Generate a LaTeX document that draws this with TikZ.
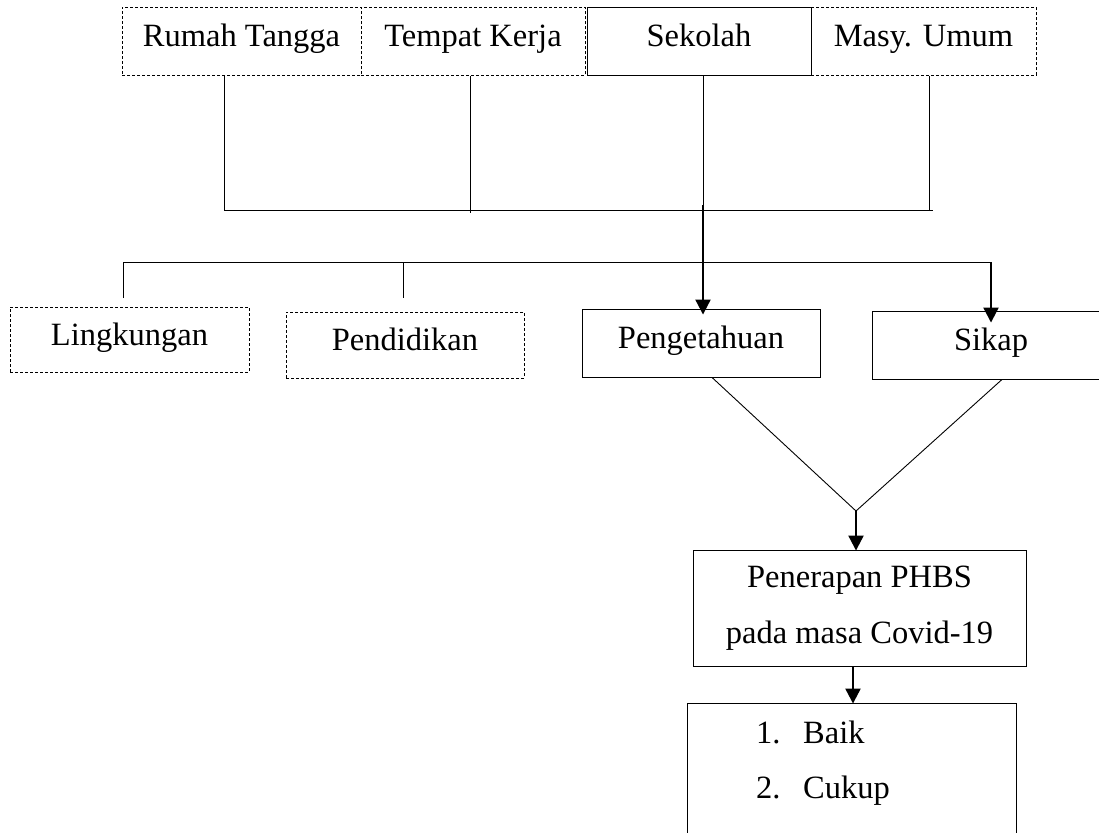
\documentclass[tikz,border=0pt]{standalone}
\usepackage{fontspec}
\setmainfont{Liberation Serif}
\usetikzlibrary{arrows.meta}
\begin{document}
\begin{tikzpicture}[x=1pt,y=-1pt,
  every node/.style={font=\fontsize{32.5}{56}\selectfont, inner sep=0pt},
  solidbox/.style={draw, line width=0.9pt, text height=21pt, text depth=10pt},
  dashbox/.style={draw, line width=0.9pt, dash pattern=on 3pt off 2pt, text height=21pt, text depth=10pt},
  thin/.style={line width=0.9pt},
  bigarrow/.style={line width=2.2pt, -{Triangle[length=15pt,width=15pt]}},
  txt/.style={anchor=base west}]
\useasboundingbox (0,0) rectangle (1099,832);
\clip (0,0) rectangle (1099,832);
% top row
\node[dashbox, minimum width=239pt, minimum height=68pt] (rt) at (241.5,41.5) {Rumah Tangga};
\node[dashbox, minimum width=224pt, minimum height=68pt] (tk) at (473,41.5) {Tempat Kerja};
\node[solidbox, minimum width=224pt, minimum height=68pt] (sk) at (699,41.5) {Sekolah};
\node[dashbox, minimum width=225pt, minimum height=68pt] (mu) at (923.5,41.5) {Masy. Umum};
% junctions upper
\coordinate (j1) at (224,210);
\coordinate (j2) at (470,210);
\coordinate (j3) at (703,210);
\coordinate (j4) at (929,210);
\coordinate (jr) at (933,210);
\coordinate (j2b) at (470,213);
\coordinate (js) at (703,205);
\draw[thin] (rt.south -| j1) -- (j1) -- (jr);
\draw[thin] (tk.south -| j2) -- (j2b);
\draw[thin] (sk.south -| j3) -- (j3);
\draw[thin] (mu.south -| j4) -- (j4);
% second row
\node[dashbox, minimum width=239pt, minimum height=65pt] (lk) at (129.5,339.5) {Lingkungan};
\node[dashbox, minimum width=238pt, minimum height=66pt] (pd) at (405,345) {Pendidikan};
\node[solidbox, minimum width=238pt, minimum height=68pt] (pg) at (701,343) {Pengetahuan};
\node[solidbox, minimum width=238pt, minimum height=68pt] (sp) at (991,345) {Sikap};
% lower horizontal
\coordinate (h1) at (123,262);
\coordinate (h2) at (403,262);
\coordinate (h3) at (991,262);
\coordinate (l1) at (123,298);
\coordinate (l2) at (403,298);
\draw[thin] (l1) -- (h1) -- (h3);
\draw[thin] (h2) -- (l2);
\draw[bigarrow] (js) -- ([yshift=-6pt]pg.north -| js);
\draw[bigarrow] (h3) -- ([yshift=-12pt]sp.north);
% convergence
\coordinate (apex) at (856,511);
\draw[thin] (pg.south -| 712,0) -- (apex) -- (sp.south -| 1002,0);
\node[draw, line width=0.9pt, minimum width=333pt, minimum height=116pt, align=center] (ph) at (859.5,608) {Penerapan PHBS\\pada masa Covid-19};
\draw[bigarrow] (apex) -- ([yshift=-1pt]ph.north -| apex);
\node[draw, line width=0.9pt, minimum width=329pt, minimum height=160pt] (res) at (851.5,783) {};
\draw[bigarrow] (ph.south -| 853,0) -- ([yshift=-1pt]res.north -| 853,0);
\node[txt] (b1) at (756,743) {\makebox[47pt][l]{1.}Baik};
\node[txt] (b2) at (756,798) {\makebox[47pt][l]{2.}Cukup};
\end{tikzpicture}
\end{document}
